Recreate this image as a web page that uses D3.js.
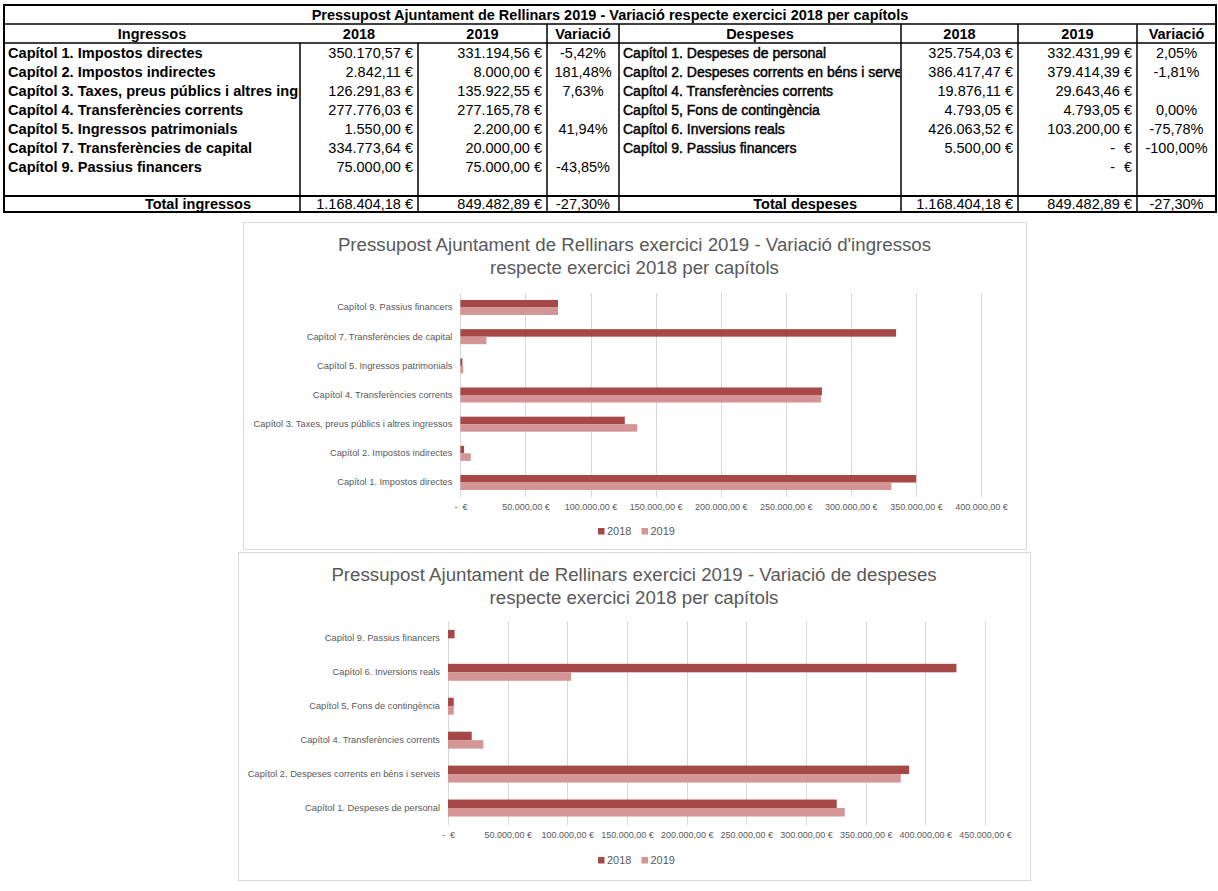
<!DOCTYPE html>
<html>
<head>
<meta charset="utf-8">
<script src="https://cdn.jsdelivr.net/npm/d3@7"></script>
<style>
  html, body { margin: 0; padding: 0; background: #ffffff; }
  svg { display: block; }
  text { font-family: "Liberation Sans", Arial, sans-serif; }
</style>
</head>
<body>
<svg id="page" width="1218" height="891"></svg>
<script>
// ---------------- DATA ----------------
const tableTitle = "Pressupost Ajuntament de Rellinars 2019 - Variació respecte exercici 2018 per capítols";
const ingHeaders = ["Ingressos", "2018", "2019", "Variació"];
const despHeaders = ["Despeses", "2018", "2019", "Variació"];

const ingCats = [
  "Capítol 1. Impostos directes",
  "Capítol 2. Impostos indirectes",
  "Capítol 3. Taxes, preus públics i altres ingressos",
  "Capítol 4. Transferències corrents",
  "Capítol 5. Ingressos patrimonials",
  "Capítol 7. Transferències de capital",
  "Capítol 9. Passius financers"
];
const ing2018 = [350170.57, 2842.11, 126291.83, 277776.03, 1550.00, 334773.64, 75000.00];
const ing2019 = [331194.56, 8000.00, 135922.55, 277165.78, 2200.00, 20000.00, 75000.00];
const ingVar = ["-5,42%", "181,48%", "7,63%", "", "41,94%", "", "-43,85%"];

const despCats = [
  "Capítol 1. Despeses de personal",
  "Capítol 2. Despeses corrents en béns i serveis",
  "Capítol 4. Transferències corrents",
  "Capítol 5, Fons de contingència",
  "Capítol 6. Inversions reals",
  "Capítol 9. Passius financers"
];
const desp2018 = [325754.03, 386417.47, 19876.11, 4793.05, 426063.52, 5500.00];
const desp2019 = [332431.99, 379414.39, 29643.46, 4793.05, 103200.00, 0];
const despVar = ["2,05%", "-1,81%", "", "0,00%", "-75,78%", "-100,00%"];
const despExtra2019 = 0; // extra row shown as "- €"

const totalLabels = ["Total ingressos", "Total despeses"];
const ingTotals = [1168404.18, 849482.89];
const despTotals = [1168404.18, 849482.89];
const totalVar = ["-27,30%", "-27,30%"];

const series = ["2018", "2019"];
const seriesColors = ["#a64748", "#d49596"];

const chart1Title = ["Pressupost Ajuntament de Rellinars exercici 2019 - Variació d'ingressos",
                     "respecte exercici 2018 per capítols"];
const chart2Title = ["Pressupost Ajuntament de Rellinars exercici 2019 - Variació de despeses",
                     "respecte exercici 2018 per capítols"];
const ingTicks = [0, 50000, 100000, 150000, 200000, 250000, 300000, 350000, 400000];
const despTicks = [0, 50000, 100000, 150000, 200000, 250000, 300000, 350000, 400000, 450000];

// ---------------- FORMAT ----------------
const loc = d3.formatLocale({decimal: ",", thousands: ".", grouping: [3], currency: ["", " €"]});
const fmtEur = loc.format("$,.2f");

const svg = d3.select("#page");

// ---------------- TABLE ----------------
const T = {x0: 4, x1: 1216, yTop: 5, yTitle: 24, yHead: 43, rowH: 19.1, yTot: 196, yBot: 212};
const leftCols = [4, 300, 418, 547, 619];
const rightCols = [619, 901, 1018, 1137, 1216];
const tFont = 14.5;
const tbl = svg.append("g").attr("class", "table");

const defs = svg.append("defs");
defs.append("clipPath").attr("id", "clipL").append("rect")
  .attr("x", leftCols[0]).attr("y", T.yHead).attr("width", leftCols[1] - leftCols[0] - 1).attr("height", T.yTot - T.yHead);
defs.append("clipPath").attr("id", "clipR").append("rect")
  .attr("x", rightCols[0]).attr("y", T.yHead).attr("width", rightCols[1] - rightCols[0] - 1).attr("height", T.yTot - T.yHead);

function line(x1, y1, x2, y2, w) {
  tbl.append("line").attr("x1", x1).attr("y1", y1).attr("x2", x2).attr("y2", y2)
    .attr("stroke", "#000").attr("stroke-width", w || 1.5);
}
// title
tbl.append("text").attr("x", (T.x0 + T.x1) / 2).attr("y", (T.yTop + T.yTitle) / 2)
  .attr("dy", "0.36em").attr("text-anchor", "middle").attr("font-weight", "bold")
  .attr("font-size", tFont).text(tableTitle);

// headers
function headers(cols, hdr) {
  hdr.forEach((h, i) => {
    tbl.append("text").attr("x", (cols[i] + cols[i + 1]) / 2).attr("y", (T.yTitle + T.yHead) / 2)
      .attr("dy", "0.36em").attr("text-anchor", "middle").attr("font-weight", "bold")
      .attr("font-size", tFont).text(h);
  });
}
headers(leftCols, ingHeaders);
headers(rightCols, despHeaders);

const rowY = i => T.yHead + T.rowH * (i + 0.5);

function money(x, y, v) {
  if (v === 0) {
    tbl.append("text").attr("x", x).attr("y", y).attr("dy", "0.36em").attr("text-anchor", "end")
      .attr("font-size", tFont).text("€");
    tbl.append("text").attr("x", x - 17).attr("y", y).attr("dy", "0.36em").attr("text-anchor", "end")
      .attr("font-size", tFont).text("-");
  } else {
    tbl.append("text").attr("x", x).attr("y", y).attr("dy", "0.36em").attr("text-anchor", "end")
      .attr("font-size", tFont).text(fmtEur(v));
  }
}

function dataRows(cols, cats, v18, v19, vv, clipId, heavy) {
  cats.forEach((c, i) => {
    const y = rowY(i);
    const t = tbl.append("text").attr("x", cols[0] + 4).attr("y", y).attr("dy", "0.36em")
      .attr("clip-path", `url(#${clipId})`).text(c);
    if (heavy) t.attr("font-weight", "bold").attr("font-size", 14.6);
    else t.attr("font-size", 14).attr("stroke", "#000").attr("stroke-width", 0.45);
    money(cols[2] - 5, y, v18[i]);
    money(cols[3] - 5, y, v19[i]);
    if (vv[i]) tbl.append("text").attr("x", (cols[3] + cols[4]) / 2).attr("y", y).attr("dy", "0.36em")
      .attr("text-anchor", "middle").attr("font-size", tFont).text(vv[i]);
  });
}
dataRows(leftCols, ingCats, ing2018, ing2019, ingVar, "clipL", true);
dataRows(rightCols, despCats, desp2018, desp2019, despVar, "clipR", false);
money(rightCols[3] - 5, rowY(despCats.length), despExtra2019);

// totals
const yT = (T.yTot + T.yBot) / 2;
[[leftCols, ingTotals, 49], [rightCols, despTotals, 44]].forEach(([cols, tot, off], k) => {
  tbl.append("text").attr("x", cols[1] - off).attr("y", yT).attr("dy", "0.36em").attr("text-anchor", "end")
    .attr("font-weight", "bold").attr("font-size", tFont).text(totalLabels[k]);
  money(cols[2] - 5, yT, tot[0]);
  money(cols[3] - 5, yT, tot[1]);
  tbl.append("text").attr("x", (cols[3] + cols[4]) / 2).attr("y", yT).attr("dy", "0.36em")
    .attr("text-anchor", "middle").attr("font-size", tFont).text(totalVar[k]);
});

// grid lines of table
line(T.x0, T.yTitle, T.x1, T.yTitle, 1.5);
line(T.x0, T.yHead, T.x1, T.yHead, 1.5);
line(T.x0, T.yTot, T.x1, T.yTot, 2);
// header verticals
[547, 619, 901, 1018, 1137].forEach(x => line(x, T.yTitle, x, T.yHead, 1.5));
// data + total verticals
[300, 418, 547, 619, 901, 1018, 1137].forEach(x => line(x, T.yHead, x, T.yBot, 1.5));
tbl.append("rect").attr("x", T.x0).attr("y", T.yTop).attr("width", T.x1 - T.x0).attr("height", T.yBot - T.yTop)
  .attr("fill", "none").attr("stroke", "#000").attr("stroke-width", 2);

// ---------------- CHARTS ----------------
function tickFmt(d) { return d === 0 ? "-  €" : fmtEur(d); }

function drawChart(cfg) {
  const g = svg.append("g");
  g.append("rect").attr("x", cfg.box[0] + 0.5).attr("y", cfg.box[1] + 0.5)
    .attr("width", cfg.box[2] - cfg.box[0]).attr("height", cfg.box[3] - cfg.box[1])
    .attr("fill", "#fff").attr("stroke", "#d9d9d9");
  const cx = (cfg.box[0] + cfg.box[2]) / 2;
  cfg.title.forEach((t, i) => {
    g.append("text").attr("x", cx).attr("y", cfg.box[1] + 22 + i * 23).attr("dy", "0.36em")
      .attr("text-anchor", "middle").attr("font-size", 18.7).attr("fill", "#595959").text(t);
  });
  const x = d3.scaleLinear().domain(cfg.domain).range(cfg.xr);
  const y = d3.scaleBand().domain(cfg.cats.slice().reverse()).range(cfg.yr)
    .paddingInner(cfg.pad).paddingOuter(cfg.pad / 2);
  const ys = d3.scaleBand().domain(series).range([0, y.bandwidth()]);

  // gridlines
  g.append("g").selectAll("line").data(cfg.ticks).join("line")
    .attr("x1", d => Math.round(x(d)) + 0.5).attr("x2", d => Math.round(x(d)) + 0.5)
    .attr("y1", cfg.yr[0]).attr("y2", cfg.yr[1]).attr("stroke", "#d9d9d9").attr("stroke-width", 1);

  // bars
  const vals = [cfg.v18, cfg.v19];
  series.forEach((s, si) => {
    g.append("g").selectAll("rect").data(cfg.cats).join("rect")
      .attr("x", x(0))
      .attr("y", (d) => y(d) + ys(s))
      .attr("width", (d, i) => x(vals[si][i]) - x(0))
      .attr("height", ys.bandwidth())
      .attr("fill", seriesColors[si]);
  });

  // axis
  const xAxis = d3.axisBottom(x).tickValues(cfg.ticks).tickFormat(tickFmt).tickSize(0).tickPadding(0);
  const ax = g.append("g").attr("transform", `translate(0,${cfg.yr[1] + 10})`).call(xAxis);
  ax.select(".domain").remove();
  ax.selectAll("text").attr("font-size", 9).attr("fill", "#595959").attr("dy", "0.36em")
    .attr("font-family", "Liberation Sans, Arial, sans-serif").style("white-space", "pre");

  const yAxis = d3.axisLeft(y).tickSize(0).tickPadding(0);
  const ay = g.append("g").attr("transform", `translate(${cfg.xr[0] - 8},0)`).call(yAxis);
  ay.select(".domain").remove();
  ay.selectAll("text").attr("font-size", 9.3).attr("fill", "#595959")
    .attr("font-family", "Liberation Sans, Arial, sans-serif");

  // legend
  const lg = g.append("g").attr("transform", `translate(0,${cfg.legendY})`);
  const lx = [598, 641.5];
  series.forEach((s, i) => {
    lg.append("rect").attr("x", lx[i]).attr("y", -3).attr("width", 6.5).attr("height", 6.5).attr("fill", seriesColors[i]);
    lg.append("text").attr("x", lx[i] + 9).attr("y", 0).attr("dy", "0.36em").attr("font-size", 11)
      .attr("fill", "#595959").text(s);
  });
}

drawChart({
  box: [243, 222, 1026, 549], title: chart1Title, cats: ingCats, v18: ing2018, v19: ing2019,
  domain: [0, 400000], xr: [460.4, 981], yr: [292.9, 497.1], ticks: ingTicks, pad: 0.485, legendY: 531
});
drawChart({
  box: [238, 552, 1030, 880], title: chart2Title, cats: despCats, v18: desp2018, v19: desp2019,
  domain: [0, 450000], xr: [448, 985], yr: [621.4, 825], ticks: despTicks, pad: 0.5, legendY: 860
});
</script>
</body>
</html>
